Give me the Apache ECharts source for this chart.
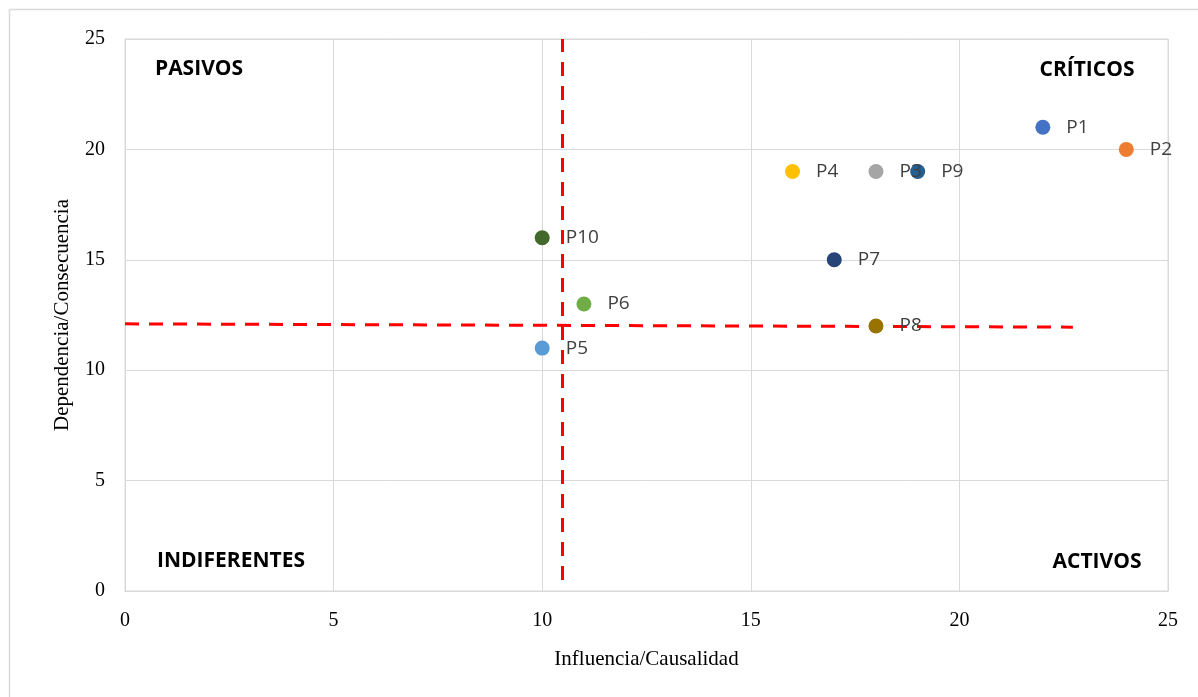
<!DOCTYPE html>
<html>
<head>
<meta charset="utf-8">
<script src="https://cdn.jsdelivr.net/npm/echarts@6/dist/echarts.min.js"></script>
<style>
  html, body { margin: 0; padding: 0; background: #ffffff; }
  #chart { width: 1198px; height: 697px; }
</style>
</head>
<body>
<div id="chart"></div>
<script>
// Problem matrix: influence (x) vs dependence (y)
const pointNames = ['P1', 'P2', 'P3', 'P4', 'P5', 'P6', 'P7', 'P8', 'P9', 'P10'];
const influence  = [22, 24, 18, 16, 10, 11, 17, 18, 19, 10];
const dependence = [21, 20, 19, 19, 11, 13, 15, 12, 19, 16];
const pointColors = ['#4472C4', '#ED7D31', '#A5A5A5', '#FFC000', '#5B9BD5',
                     '#70AD47', '#264478', '#997300', '#255E91', '#43682B'];

// Quadrant divider lines [x, y] endpoints
const verticalDivider   = [[10.47, 0.5], [10.47, 25]];
const horizontalDivider = [[0, 12.1], [22.72, 11.95]];

const quadrantLabels = ['PASIVOS', 'CRÍTICOS', 'INDIFERENTES', 'ACTIVOS'];
const axisTicks = [0, 5, 10, 15, 20, 25];

const chart = echarts.init(document.getElementById('chart'), null, { renderer: 'canvas' });

// earlier points stack on top so their labels stay readable
const series = pointNames.map((name, i) => ({
  type: 'scatter',
  name: name,
  z: 2 + (pointNames.length - i),
  symbol: 'circle',
  symbolSize: 15,
  itemStyle: { color: pointColors[i], opacity: 1 },
  label: {
    show: true,
    position: 'right',
    distance: 16,
    formatter: name,
    color: '#404040',
    fontFamily: 'Open Sans',
    fontSize: 19
  },
  emphasis: { disabled: true },
  data: [[influence[i], dependence[i]]]
}));

// Dashed divider lines drawn through the axes' scales
series.push({
  type: 'line',
  z: 1,
  data: [],
  markLine: {
    silent: true,
    symbol: 'none',
    label: { show: false },
    lineStyle: { color: '#FF0000', type: [14, 10], width: 3 },
    data: [
      [{ coord: verticalDivider[0] }, { coord: verticalDivider[1] }],
      [{ coord: horizontalDivider[0] }, { coord: horizontalDivider[1] }]
    ]
  }
});

const quadText = (text, x, y) => ({
  type: 'text',
  x: x, y: y,
  style: {
    text: text,
    fill: '#000000',
    font: 'bold 21px "Open Sans"',
    align: 'center',
    verticalAlign: 'middle'
  }
});

chart.setOption({
  animation: false,
  backgroundColor: '#ffffff',
  grid: { left: 125, right: 30, top: 39, bottom: 106, show: true, borderColor: '#D9D9D9', borderWidth: 1 },
  xAxis: {
    type: 'value',
    min: axisTicks[0],
    max: axisTicks[axisTicks.length - 1],
    interval: 5,
    name: 'Influencia/Causalidad',
    nameLocation: 'middle',
    nameGap: 58,
    nameTextStyle: { fontFamily: 'Liberation Serif', fontSize: 21, color: '#000000' },
    axisLine: { show: true, lineStyle: { color: '#D9D9D9' } },
    axisTick: { show: false },
    axisLabel: { fontFamily: 'Liberation Serif', fontSize: 20, color: '#000000', margin: 20 },
    splitLine: { show: true, lineStyle: { color: '#D9D9D9', width: 1 } }
  },
  yAxis: {
    type: 'value',
    min: axisTicks[0],
    max: axisTicks[axisTicks.length - 1],
    interval: 5,
    name: 'Dependencia/Consecuencia',
    nameLocation: 'middle',
    nameGap: 52,
    nameTextStyle: { fontFamily: 'Liberation Serif', fontSize: 21, color: '#000000' },
    axisLine: { show: true, lineStyle: { color: '#D9D9D9' } },
    axisTick: { show: false },
    axisLabel: { fontFamily: 'Liberation Serif', fontSize: 20, color: '#000000', margin: 20 },
    splitLine: { show: true, lineStyle: { color: '#D9D9D9', width: 1 } }
  },
  graphic: [
    // chart frame (top and left edges)
    { type: 'line', shape: { x1: 9.5, y1: 9.5, x2: 1198, y2: 9.5 }, style: { stroke: '#D9D9D9', lineWidth: 1.5 } },
    { type: 'line', shape: { x1: 9.5, y1: 9.5, x2: 9.5, y2: 697 }, style: { stroke: '#D9D9D9', lineWidth: 1.5 } },
    quadText(quadrantLabels[0], 199, 69),
    quadText(quadrantLabels[1], 1087, 70),
    quadText(quadrantLabels[2], 231, 561),
    quadText(quadrantLabels[3], 1097, 562)
  ],
  series: series
});
</script>
</body>
</html>
